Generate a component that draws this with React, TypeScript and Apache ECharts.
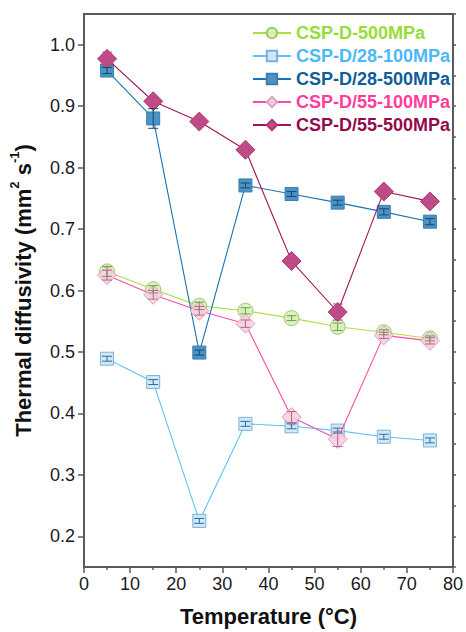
import React, { useEffect, useRef } from "react";
import * as echarts from "echarts";

const temperatures = [5, 15, 25, 35, 45, 55, 65, 75];

const seriesNames = [
  "CSP-D-500MPa",
  "CSP-D/28-100MPa",
  "CSP-D/28-500MPa",
  "CSP-D/55-100MPa",
  "CSP-D/55-500MPa",
];

const cspD500 = [0.631, 0.602, 0.575, 0.567, 0.555, 0.541, 0.532, 0.522];
const cspD28_100 = [0.489, 0.451, 0.225, 0.383, 0.379, 0.372, 0.362, 0.356];
const cspD28_500 = [0.958, 0.880, 0.499, 0.771, 0.757, 0.743, 0.728, 0.712];
const cspD55_100 = [0.625, 0.593, 0.567, 0.546, 0.394, 0.358, 0.527, 0.518];
const cspD55_500 = [0.977, 0.908, 0.875, 0.829, 0.648, 0.565, 0.761, 0.745];

const errD500 = [0.008, 0.006, 0.006, 0.005, 0.004, 0.006, 0.004, 0.004];
const errD28_100 = [0.004, 0.004, 0.004, 0.004, 0.004, 0.004, 0.004, 0.004];
const errD28_500 = [0.005, 0.016, 0.004, 0.004, 0.004, 0.004, 0.005, 0.005];
const errD55_100 = [0.008, 0.007, 0.007, 0.006, 0.009, 0.012, 0.005, 0.005];
const errD55_500 = [0.011, 0.005, 0.004, 0.004, 0.004, 0.013, 0.005, 0.004];

const yTickValues = [0.2, 0.3, 0.4, 0.5, 0.6, 0.7, 0.8, 0.9, 1.0];

const FONT = "'Liberation Sans', Arial, Helvetica, sans-serif";

const styles = [
  { symbol: "circle", size: 15, fill: "rgba(214,240,186,0.85)", border: "#9cc86a", line: "#abe043", text: "#97dd36", err: "#6f9c48" },
  { symbol: "rect", size: 13, fill: "rgba(204,230,248,0.9)", border: "#7eb0d4", line: "#5cc2ff", text: "#4cb8f5", err: "#2f6f9e" },
  { symbol: "rect", size: 13, fill: "#4b93c5", border: "#3a7fae", line: "#1a72b4", text: "#0e5e99", err: "#17476e" },
  { symbol: "diamond", size: 19, fill: "rgba(250,206,226,0.9)", border: "#d9a2be", line: "#ff4aa5", text: "#ff3d9e", err: "#b06a8c" },
  { symbol: "diamond", size: 19, fill: "#c04b88", border: "#a83b74", line: "#a3145a", text: "#930b4f", err: "#b0507f" },
];

const values = [cspD500, cspD28_100, cspD28_500, cspD55_100, cspD55_500];
const errors = [errD500, errD28_100, errD28_500, errD55_100, errD55_500];

export default function App() {
  const ref = useRef<HTMLDivElement>(null);
  useEffect(() => {
    document.body.style.margin = "0";
    const chart = echarts.init(ref.current!, null, { renderer: "svg" });

    const lineSeries = seriesNames.map((name, i) => ({
      name,
      type: "line",
      data: temperatures.map((t, j) => [t, values[i][j]]),
      symbol: styles[i].symbol,
      symbolSize: styles[i].size,
      lineStyle: { color: styles[i].line, width: 1.1 },
      itemStyle: { color: styles[i].fill, borderColor: styles[i].border, borderWidth: 1, opacity: 1 },
      z: 3 + i,
    }));

    const errSeries = seriesNames.map((name, i) => ({
      name: name + " err",
      type: "custom",
      data: temperatures.map((t, j) => [t, values[i][j], errors[i][j]]),
      encode: { x: 0, y: 1 },
      z: 20,
      silent: true,
      renderItem: (params: any, api: any) => {
        const x = api.value(0);
        const y = api.value(1);
        const e = api.value(2);
        const top = api.coord([x, y + e]);
        const bot = api.coord([x, y - e]);
        const hw = 5;
        const st = { stroke: styles[i].err, lineWidth: 1 };
        return {
          type: "group",
          children: [
            { type: "line", shape: { x1: top[0], y1: top[1], x2: bot[0], y2: bot[1] }, style: st },
            { type: "line", shape: { x1: top[0] - hw, y1: top[1], x2: top[0] + hw, y2: top[1] }, style: st },
            { type: "line", shape: { x1: bot[0] - hw, y1: bot[1], x2: bot[0] + hw, y2: bot[1] }, style: st },
          ],
        };
      },
    }));

    const axisColor = "#5a5a5a";

    chart.setOption({
      animation: false,
      backgroundColor: "#fff",
      grid: {
        left: 83,
        right: 11,
        top: 14,
        bottom: 62,
        show: true,
        borderColor: axisColor,
        borderWidth: 2,
      },
      legend: {
        orient: "vertical",
        right: 11,
        top: 19,
        itemWidth: 38,
        itemHeight: 13,
        itemGap: 5,
        textStyle: { fontSize: 18, fontWeight: "bold", fontFamily: FONT },
        data: seriesNames.map((n, i) => ({ name: n, textStyle: { color: styles[i].text } })),
      },
      xAxis: {
        type: "value",
        min: 0,
        max: 80,
        interval: 10,
        name: "Temperature (°C)",
        nameLocation: "middle",
        nameGap: 38,
        nameTextStyle: { fontSize: 22, fontWeight: "bold", fontFamily: FONT, color: "#111" },
        axisLine: { show: true, lineStyle: { color: axisColor, width: 2 } },
        axisTick: { show: true, length: 6, lineStyle: { color: axisColor, width: 1.5 } },
        minorTick: { show: true, splitNumber: 2, length: 3, lineStyle: { color: axisColor, width: 1.5 } },
        axisLabel: { fontSize: 18, fontFamily: FONT, color: "#1a1a1a", margin: 8 },
        splitLine: { show: false },
      },
      yAxis: [
        {
          type: "value",
          min: 0.15,
          max: 1.05,
          name: "{b|Thermal diffusivity (mm}{s|2}{b| s}{s|-1}{b|)}",
          nameLocation: "middle",
          nameGap: 46,
          nameTextStyle: {
            rich: {
              b: { fontSize: 22, fontWeight: "bold", fontFamily: FONT, color: "#111", lineHeight: 30, verticalAlign: "middle" },
              s: { fontSize: 13, fontWeight: "bold", fontFamily: FONT, color: "#111", lineHeight: 20, verticalAlign: "top" },
            },
          },
          axisLine: { show: true, lineStyle: { color: axisColor, width: 2 } },
          axisTick: { show: true, length: 6, customValues: yTickValues, lineStyle: { color: axisColor, width: 1.5 } },
          axisLabel: {
            fontSize: 18,
            fontFamily: FONT,
            color: "#1a1a1a",
            margin: 9,
            customValues: yTickValues,
            formatter: (v: number) => v.toFixed(1),
          },
          splitLine: { show: false },
        },
        {
          type: "value",
          min: 0.15,
          max: 1.05,
          interval: 0.05,
          axisLine: { show: false },
          axisTick: { show: true, length: 3, lineStyle: { color: axisColor, width: 1.5 } },
          axisLabel: { show: false },
          splitLine: { show: false },
        },
      ],
      series: [...lineSeries, ...errSeries],
    });
    return () => chart.dispose();
  }, []);
  return <div ref={ref} style={{ width: 466, height: 632 }} />;
}
